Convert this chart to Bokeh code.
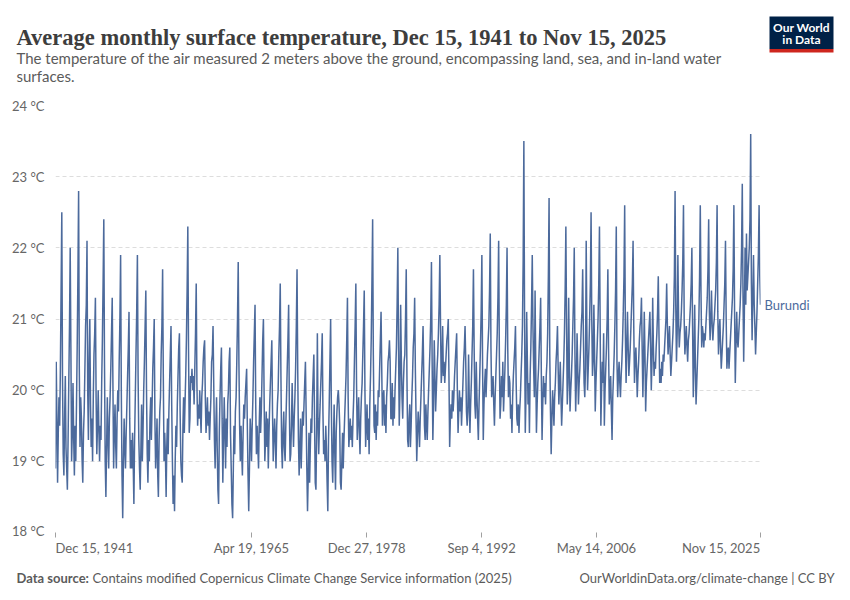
import pandas as pd
from bokeh.plotting import figure
from bokeh.layouts import column
from bokeh.models import (Range1d, FixedTicker, PrintfTickFormatter, Label,
                          ColumnDataSource)
from bokeh.embed import file_html
from bokeh.resources import INLINE

# ---------------- data (monthly, Dec 1941 .. Nov 2025, degC) ----------------
temps_1940s = [18.9,
    20.4, 19.6, 18.7, 19.4, 19.9, 19.5, 20.3, 21.4, 22.5, 20.2, 19.1, 18.8,
    19.6, 20.2, 19.2, 18.9, 18.6, 19.3, 20.1, 20.9, 22.0, 20.6, 19.0, 19.4,
    20.1, 19.3, 18.8, 19.5, 19.0, 19.8, 20.6, 21.6, 22.8, 20.3, 19.2, 19.9,
    19.6, 19.0, 18.7, 19.4, 19.7, 20.3, 20.9, 21.2, 22.1, 20.0, 19.3, 20.4,
    21.0, 19.8, 19.2, 19.6, 19.0, 19.9, 20.5, 20.8, 21.3, 19.9, 19.1, 19.5,
    20.0, 19.4, 19.0, 19.5, 19.3, 20.1, 20.7, 21.5, 22.4, 20.4, 19.0, 18.5,
    19.2, 19.9, 19.3, 18.9, 19.6, 19.9, 20.3, 20.8, 21.3, 20.1, 18.9, 19.4,
    19.8, 19.2, 18.9, 19.6, 20.0, 19.7, 20.4, 21.0, 21.9, 20.0, 18.8, 18.2]
temps_1950s = [
    19.0, 19.6, 19.2, 18.9, 19.4, 19.8, 20.2, 20.6, 21.1, 19.6, 18.9, 19.3,
    18.9, 19.4, 19.0, 18.4, 19.3, 19.9, 20.5, 21.1, 21.9, 20.2, 19.3, 18.9,
    18.6, 19.2, 19.8, 19.0, 19.4, 20.0, 20.4, 20.9, 21.4, 20.0, 19.1, 18.7,
    19.3, 19.0, 19.6, 19.9, 19.3, 19.8, 20.3, 20.6, 21.0, 19.6, 18.9, 19.2,
    19.6, 18.8, 18.5, 19.3, 19.7, 19.9, 20.5, 20.9, 21.7, 20.2, 19.0, 19.4,
    19.1, 18.5, 19.2, 19.6, 19.1, 19.7, 20.1, 20.5, 20.9, 19.8, 19.0, 18.4,
    18.8, 18.3, 19.0, 19.5, 19.2, 19.8, 20.2, 20.6, 20.8, 19.7, 19.0, 18.8,
    18.7, 19.5, 19.9, 19.4, 19.8, 20.2, 20.7, 21.4, 22.3, 20.6, 19.4, 19.6,
    20.2, 20.1, 20.3, 20.0, 20.2, 19.8, 20.3, 20.8, 21.5, 20.1, 19.5, 19.8,
    19.6, 20.0, 19.7, 19.4, 19.9, 20.1, 20.4, 20.6, 20.7, 19.9, 19.4, 19.6]
temps_1960s = [
    19.9, 19.5, 19.7, 19.3, 19.6, 19.9, 20.4, 20.5, 20.9, 20.1, 19.3, 18.9,
    19.5, 19.9, 19.2, 18.6, 18.4, 19.4, 19.9, 20.3, 20.6, 19.6, 18.7, 19.3,
    19.9, 19.4, 18.9, 19.6, 19.2, 19.8, 20.0, 20.4, 20.6, 19.4, 18.9, 18.4,
    18.2, 18.9, 19.5, 19.1, 19.7, 19.9, 20.4, 21.0, 21.8, 20.4, 19.5, 19.0,
    19.5, 19.1, 18.8, 19.4, 19.8, 19.6, 19.9, 20.1, 20.3, 19.5, 18.8, 18.3,
    18.9, 19.6, 19.4, 19.0, 19.5, 19.9, 20.4, 20.8, 21.2, 19.8, 19.1, 19.5,
    19.2, 18.9, 19.5, 19.9, 19.4, 19.7, 20.2, 20.7, 21.0, 19.9, 19.0, 19.3,
    19.7, 19.2, 19.6, 18.9, 19.4, 19.8, 20.1, 20.4, 20.7, 19.7, 19.0, 19.3,
    19.6, 19.3, 18.9, 19.5, 19.8, 20.0, 20.5, 20.9, 21.5, 20.2, 19.2, 18.9,
    19.4, 19.7, 19.2, 19.0, 19.5, 19.9, 20.3, 20.7, 21.2, 19.8, 19.0, 19.1]
temps_1970s = [
    19.5, 20.1, 19.6, 19.2, 19.6, 19.9, 20.3, 20.9, 21.7, 20.3, 19.3, 18.8,
    19.2, 19.6, 18.9, 19.3, 19.7, 19.5, 19.8, 20.1, 20.4, 19.7, 18.9, 18.3,
    18.8, 19.4, 18.7, 19.2, 19.6, 19.4, 19.9, 20.2, 20.5, 19.6, 18.7, 18.6,
    19.4, 20.8, 19.6, 19.1, 19.5, 19.8, 20.1, 20.4, 20.8, 19.7, 19.1, 19.3,
    19.0, 19.5, 19.2, 18.7, 18.3, 19.3, 19.8, 20.4, 21.0, 19.8, 19.0, 18.7,
    19.3, 19.8, 19.1, 18.6, 19.4, 19.7, 19.9, 20.0, 19.8, 19.5, 18.7, 18.6,
    19.0, 19.4, 18.9, 19.3, 19.6, 19.9, 20.2, 20.7, 21.3, 19.9, 19.2, 19.4,
    19.6, 19.3, 19.5, 19.2, 19.6, 19.9, 20.4, 20.9, 21.5, 20.1, 19.3, 19.6,
    19.9, 19.4, 19.1, 19.6, 19.9, 20.1, 20.5, 20.9, 21.4, 20.0, 19.2, 19.5,
    19.8, 19.3, 19.6, 19.1, 19.8, 20.2, 20.7, 21.5, 22.4, 20.5, 19.5, 19.4]
temps_1980s = [
    19.8, 19.3, 19.7, 19.5, 20.0, 19.9, 20.3, 20.7, 21.1, 20.3, 19.5, 19.9,
    20.0, 19.5, 19.8, 19.4, 19.9, 20.1, 20.4, 20.5, 20.7, 20.4, 19.6, 19.6,
    20.1, 19.5, 19.9, 19.6, 20.0, 20.3, 20.6, 21.2, 22.0, 20.6, 19.5, 20.0,
    21.2, 20.4, 19.9, 19.6, 20.1, 20.4, 20.5, 21.0, 21.7, 20.2, 19.3, 19.2,
    19.6, 19.8, 19.2, 19.5, 19.9, 20.2, 20.6, 20.8, 21.3, 20.3, 19.6, 19.0,
    19.4, 19.7, 19.5, 19.2, 19.6, 19.9, 20.2, 20.5, 20.9, 20.2, 19.5, 19.3,
    19.8, 19.5, 19.3, 19.7, 20.0, 20.3, 20.6, 21.0, 21.8, 20.4, 19.3, 19.8,
    20.7, 20.2, 19.7, 20.0, 20.3, 20.5, 20.8, 21.2, 21.9, 20.9, 20.1, 20.3,
    20.9, 20.2, 20.4, 20.1, 20.3, 20.5, 20.7, 20.8, 21.0, 20.2, 19.2, 19.6,
    19.8, 19.6, 20.0, 19.7, 19.9, 20.2, 20.4, 20.6, 20.8, 20.0, 19.4, 19.7]
temps_1990s = [
    20.0, 19.7, 19.9, 19.5, 19.8, 20.1, 20.4, 20.6, 20.9, 20.4, 19.7, 19.5,
    19.7, 20.5, 19.9, 19.4, 19.8, 20.1, 20.5, 20.9, 21.7, 20.6, 19.8, 19.6,
    20.4, 19.9, 19.6, 19.3, 19.8, 20.2, 20.6, 21.1, 21.9, 20.4, 19.3, 19.8,
    20.1, 20.3, 19.9, 20.2, 20.5, 20.7, 20.9, 21.4, 22.2, 20.6, 19.9, 20.0,
    20.2, 19.8, 19.5, 19.9, 20.2, 20.5, 20.8, 21.3, 22.1, 20.5, 19.6, 19.8,
    20.2, 19.9, 20.4, 19.7, 20.0, 20.3, 20.7, 21.2, 22.0, 20.6, 19.9, 20.2,
    20.1, 19.6, 19.8, 19.4, 19.9, 20.2, 20.4, 20.6, 20.9, 20.1, 19.6, 19.5,
    19.8, 19.4, 19.7, 19.9, 20.2, 20.5, 20.9, 21.8, 23.5, 21.0, 19.4, 19.9,
    21.1, 20.4, 19.8, 20.1, 19.4, 20.2, 20.6, 21.2, 21.9, 20.9, 20.3, 19.9,
    21.4, 20.3, 19.4, 19.8, 20.1, 20.3, 20.6, 20.9, 21.3, 20.2, 19.3, 19.8]
temps_2000s = [
    20.2, 19.9, 20.1, 19.8, 20.2, 20.4, 20.8, 21.6, 22.7, 20.5, 19.7, 19.1,
    19.6, 20.0, 19.8, 19.5, 19.9, 20.1, 20.4, 20.6, 20.9, 20.3, 19.8, 20.1,
    20.4, 19.9, 19.5, 19.8, 20.1, 20.4, 20.8, 21.4, 22.3, 20.9, 19.8, 20.1,
    21.3, 20.3, 19.7, 20.0, 20.2, 20.5, 20.9, 21.3, 22.0, 20.5, 19.7, 20.1,
    20.8, 20.3, 19.8, 20.1, 20.3, 20.6, 20.9, 21.1, 21.7, 20.8, 20.1, 19.9,
    20.3, 22.1, 20.9, 20.0, 20.3, 20.6, 21.0, 21.5, 22.5, 21.0, 20.2, 20.4,
    21.2, 20.5, 19.7, 20.1, 20.4, 20.7, 21.0, 21.5, 22.3, 20.9, 19.5, 20.0,
    20.4, 20.1, 20.8, 19.5, 20.0, 20.3, 20.6, 21.0, 21.7, 20.6, 19.8, 20.0,
    20.2, 19.7, 19.3, 19.9, 20.2, 20.5, 20.9, 21.4, 22.3, 20.4, 19.9, 20.2,
    20.4, 20.1, 19.9, 20.2, 20.4, 20.7, 21.1, 21.6, 22.6, 20.8, 20.1, 20.6]
temps_2010s = [
    21.1, 20.6, 20.2, 20.4, 20.6, 20.9, 21.2, 21.5, 22.1, 20.9, 20.1, 20.4,
    20.6, 20.3, 19.9, 20.2, 20.4, 20.7, 20.9, 21.0, 21.3, 20.6, 19.9, 20.4,
    21.1, 20.5, 19.7, 20.1, 20.3, 20.5, 20.7, 20.9, 21.1, 20.6, 20.0, 20.4,
    21.3, 20.6, 20.2, 20.4, 20.3, 20.6, 20.8, 21.1, 21.6, 20.8, 20.1, 20.3,
    20.1, 20.4, 20.2, 20.5, 20.4, 20.6, 20.8, 21.0, 21.5, 20.9, 20.5, 20.7,
    20.9, 20.5, 20.2, 20.4, 20.6, 20.8, 21.1, 21.6, 22.8, 21.2, 20.4, 20.8,
    21.9, 21.0, 20.6, 20.8, 20.9, 21.1, 21.4, 21.8, 22.6, 21.0, 20.5, 20.7,
    20.9, 20.6, 20.4, 20.7, 20.8, 21.0, 21.2, 21.5, 22.0, 20.9, 19.9, 20.4,
    21.2, 20.3, 19.8, 20.1, 20.4, 20.7, 21.0, 21.6, 22.6, 21.4, 20.6, 20.9,
    20.8, 20.6, 20.8, 20.7, 20.9, 21.1, 21.3, 21.7, 22.4, 21.1, 20.7, 21.0]
temps_2020s = [
    21.4, 20.9, 20.7, 20.9, 21.0, 21.2, 21.4, 21.8, 22.6, 21.1, 20.5, 20.8,
    21.0, 20.6, 20.3, 20.5, 20.7, 20.9, 21.2, 21.5, 22.1, 21.0, 20.3, 20.5,
    20.6, 20.3, 20.5, 20.7, 20.9, 21.1, 21.3, 21.7, 22.6, 21.1, 20.1, 20.6,
    21.1, 20.7, 20.6, 20.8, 21.0, 21.2, 21.5, 22.0, 22.9, 21.4, 20.4, 21.1,
    22.0, 21.2, 22.2, 21.4, 21.6, 21.8, 22.0, 22.4, 23.6, 21.5, 20.7, 21.3,
    21.9, 21.2, 20.9, 20.5, 20.8, 21.1, 21.5, 21.9, 22.6, 21.6, 21.2]

x_tick_dates = ["1941-12-15", "1965-04-19", "1978-12-27", "1992-09-04",
                "2006-05-14", "2025-11-15"]
x_tick_labels = ["Dec 15, 1941", "Apr 19, 1965", "Dec 27, 1978",
                 "Sep 4, 1992", "May 14, 2006", "Nov 15, 2025"]
y_ticks = [18, 19, 20, 21, 22, 23, 24]
series_name = "Burundi"

temps = (temps_1940s + temps_1950s + temps_1960s + temps_1970s + temps_1980s
         + temps_1990s + temps_2000s + temps_2010s + temps_2020s)
dates = pd.date_range("1941-12-01", periods=len(temps), freq="MS") + pd.Timedelta(days=14)
src = ColumnDataSource(data=dict(date=dates, temp=temps))

LINE = "#4c6a9c"
GREY = "#5b5b5b"
AX = "#666666"
W = 850

# page geometry (px)
HEAD_H = 97            # header strip 0..97
MAIN_BOTTOM = 538      # main figure 97..538
FRAME_L, FRAME_R, FRAME_T, FRAME_B = 55, 760, 105, 532


def bare(fig):
    fig.outline_line_color = None
    fig.background_fill_color = "white"
    fig.border_fill_color = "white"
    fig.xgrid.grid_line_color = None
    fig.ygrid.grid_line_color = None
    return fig


# ---------------- header ----------------
head = bare(figure(width=W, height=HEAD_H, x_range=Range1d(0, W),
                   y_range=Range1d(HEAD_H, 0), output_backend="svg",
                   toolbar_location=None, x_axis_location=None,
                   y_axis_location=None, min_border=0, frame_align=False))


def hlab(fig, text, x, y, size, color, font="Lato", style="normal",
         align="left", baseline="middle"):
    fig.add_layout(Label(x=x, y=y, text=text, text_font=font,
                         text_font_size=size, text_color=color,
                         text_font_style=style, text_align=align,
                         text_baseline=baseline))


hlab(head, "Average monthly surface temperature, Dec 15, 1941 to Nov 15, 2025",
     16, 36.5, "22.5px", "#3d3d3d", font="Liberation Serif", style="bold",
     baseline="alphabetic")
hlab(head, "The temperature of the air measured 2 meters above the ground, "
     "encompassing land, sea, and in-land water", 16, 57, "15px", GREY)
hlab(head, "surfaces.", 16, 75, "15px", GREY)
head.quad(left=[769], right=[833], top=[16], bottom=[48.5],
          fill_color="#002147", line_color=None)
head.quad(left=[769], right=[833], top=[48.5], bottom=[52],
          fill_color="#ce261e", line_color=None)
hlab(head, "Our World", 801, 27, "12px", "white", style="bold", align="center")
hlab(head, "in Data", 801, 39, "12px", "white", style="bold", align="center")

# ---------------- main chart ----------------
p = bare(figure(width=W, height=MAIN_BOTTOM - HEAD_H, x_axis_type="datetime",
                output_backend="svg", toolbar_location=None,
                min_border_left=FRAME_L, min_border_right=W - FRAME_R,
                min_border_top=FRAME_T - HEAD_H,
                min_border_bottom=MAIN_BOTTOM - FRAME_B, frame_align=False,
                x_range=Range1d(dates[0], dates[-1]), y_range=Range1d(18, 24)))

p.line(x="date", y="temp", source=src, line_color=LINE, line_width=1.5)

tick_ms = [pd.Timestamp(d).value // 10**6 for d in x_tick_dates]
p.xaxis.ticker = FixedTicker(ticks=tick_ms)
p.xaxis.axis_line_color = None
p.xaxis.major_tick_line_color = "#a0a0a0"
p.xaxis.major_tick_out = 5
p.xaxis.major_tick_in = 0
p.xaxis.minor_tick_line_color = None
p.xaxis.major_label_text_color = None
p.xaxis.major_label_text_font_size = "0px"
p.xaxis.major_label_standoff = 0

p.yaxis.ticker = FixedTicker(ticks=y_ticks)
p.yaxis.formatter = PrintfTickFormatter(format="%d °C")
p.yaxis.axis_line_color = None
p.yaxis.major_tick_line_color = None
p.yaxis.minor_tick_line_color = None
p.yaxis.major_label_text_color = AX
p.yaxis.major_label_text_font = "Lato"
p.yaxis.major_label_text_font_size = "13px"
p.yaxis.major_label_standoff = 5
p.ygrid.grid_line_color = "#dddddd"
p.ygrid.grid_line_dash = "4 3"

# series name in the right-hand side panel
p.add_layout(Label(x=4, x_units="screen", y=temps[-1], y_units="data",
                   text=series_name, text_font="Lato", text_font_size="13px",
                   text_color=LINE, text_baseline="middle"), "right")

# ---------------- footer (x tick labels + sources) ----------------
FOOT_H = 600 - MAIN_BOTTOM
t0 = dates[0].value // 10**6
t1 = dates[-1].value // 10**6
ms_per_px = (t1 - t0) / (FRAME_R - FRAME_L)
foot = bare(figure(width=W, height=FOOT_H,
                   x_range=Range1d(t0 - FRAME_L * ms_per_px,
                                   t1 + (W - FRAME_R) * ms_per_px),
                   y_range=Range1d(FOOT_H, 0), output_backend="svg",
                   toolbar_location=None, x_axis_location=None,
                   y_axis_location=None, min_border=0, frame_align=False))

aligns = ["left"] + ["center"] * (len(tick_ms) - 2) + ["right"]
for t, txt, al in zip(tick_ms, x_tick_labels, aligns):
    foot.add_layout(Label(x=t, y=547 - MAIN_BOTTOM, text=txt, text_font="Lato",
                          text_font_size="13px", text_color=AX,
                          text_align=al, text_baseline="middle"))


def flab(text, px, py, style="normal", align="left"):
    foot.add_layout(Label(x=px, x_units="screen", y=py - MAIN_BOTTOM,
                          text=text, text_font="Lato", text_font_size="13px",
                          text_color=GREY, text_font_style=style,
                          text_align=align, text_baseline="middle"))


flab("Data source:", 16, 577, style="bold")
flab("Contains modified Copernicus Climate Change Service information (2025)",
     92, 577)
flab("OurWorldinData.org/climate-change | CC BY", 834, 577, align="right")

layout = column(head, p, foot, spacing=0)
open("out.html", "w").write(file_html(layout, INLINE))
